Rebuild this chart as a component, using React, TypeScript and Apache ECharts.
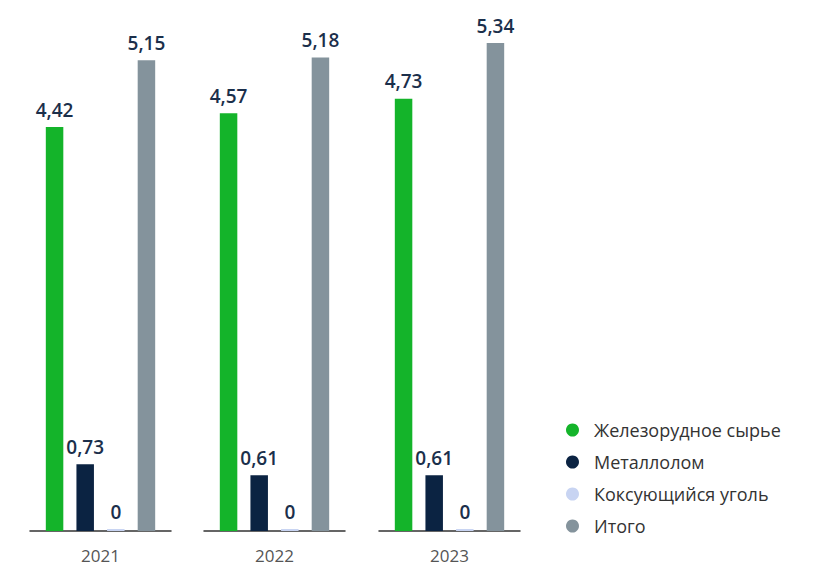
import React, { useEffect, useRef } from "react";
import * as echarts from "echarts";

const years = ["2021", "2022", "2023"];
const seriesNames = ["Железорудное сырье", "Металлолом", "Коксующийся уголь", "Итого"];
const ironOre = [4.42, 4.57, 4.73];
const scrap = [0.73, 0.61, 0.61];
const coal = [0, 0, 0];
const total = [5.15, 5.18, 5.34];
const colors = ["#14b42a", "#0b2342", "#c8d4f2", "#84939c"];

const FONT = "'Open Sans', 'Noto Sans', sans-serif";

export default function App() {
  const ref = useRef<HTMLDivElement>(null);
  useEffect(() => {
    if (!ref.current) return;
    const chart = echarts.init(ref.current, undefined, { renderer: "svg" });
    const values = [ironOre, scrap, coal, total];
    const lefts = [30, 204, 379];
    const grids = lefts.map((l) => ({
      left: l,
      width: 141,
      top: 43,
      bottom: 36,
      outerBoundsMode: "none",
      containLabel: false,
    }));
    const xAxes = years.map((y, i) => ({
      type: "category" as const,
      gridIndex: i,
      data: [y],
      axisTick: { show: false },
      axisLine: { lineStyle: { color: "#333", width: 1.5 } },
      axisLabel: { color: "#555", fontSize: 17, fontFamily: FONT, margin: 16 },
    }));
    const yAxes = years.map((_, i) => ({
      type: "value" as const,
      gridIndex: i,
      min: 0,
      max: 5.34,
      show: false,
      splitLine: { show: false },
    }));
    const series: any[] = [];
    years.forEach((_, i) => {
      seriesNames.forEach((name, s) => {
        series.push({
          name,
          type: "bar",
          xAxisIndex: i,
          yAxisIndex: i,
          data: [values[s][i]],
          barWidth: 17.5,
          barGap: "75%",
          barMinHeight: 2,
          itemStyle: { color: colors[s] },
          label: {
            show: true,
            position: "top",
            distance: 8,
            color: "#1b2f4b",
            fontSize: 19,
            fontWeight: 600,
            fontFamily: FONT,
            formatter: (p: any) => String(p.value).replace(".", ","),
          },
        });
      });
    });
    chart.setOption({
      animation: false,
      grid: grids,
      xAxis: xAxes,
      yAxis: yAxes,
      legend: {
        orient: "vertical",
        left: 561,
        top: 415,
        icon: "circle",
        itemWidth: 13,
        itemHeight: 13,
        itemGap: 12,
        data: seriesNames,
        textStyle: {
          color: "#333",
          fontSize: 18,
          fontFamily: FONT,
          lineHeight: 20,
          padding: [0, 0, 0, 10],
        },
      },
      series,
    });
    return () => chart.dispose();
  }, []);
  return (
    <div
      ref={ref}
      style={{ position: "absolute", left: 0, top: 0, width: 813, height: 567 }}
    />
  );
}
